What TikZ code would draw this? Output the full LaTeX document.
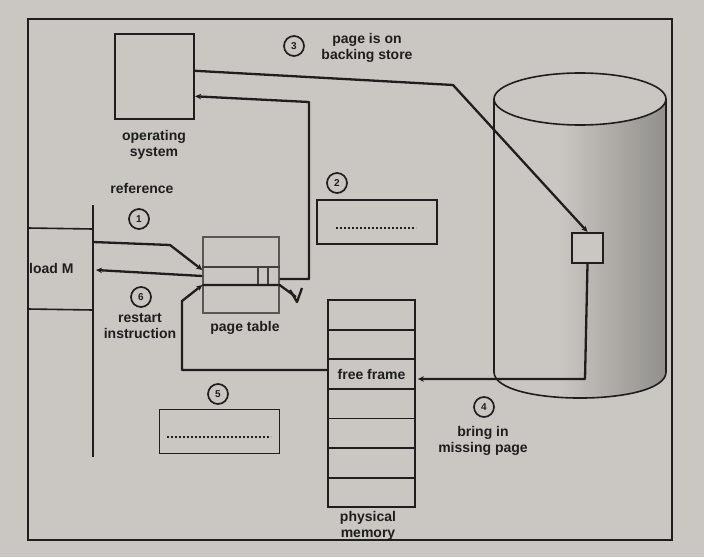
\documentclass[tikz,border=0pt]{standalone}
\usepackage{fontspec}
\setmainfont{Liberation Sans}
\usetikzlibrary{arrows.meta,calc}
\definecolor{bg}{HTML}{CAC7C2}
\definecolor{ink}{HTML}{1E1E1E}
\begin{document}
\begin{tikzpicture}[x=1pt,y=-1pt,
  ln/.style={draw=ink,line width=2.3pt,line join=round},
  thinln/.style={draw=ink,line width=1.6pt},
  box/.style={draw=ink,line width=2.2pt,inner sep=0pt},
  fillbox/.style={draw=ink,line width=1.8pt,inner sep=0pt,minimum width=120pt,minimum height=44pt},
  num/.style={circle,draw=ink,line width=1.7pt,minimum size=20pt,inner sep=0pt,text=ink,font=\fontsize{10}{10}\selectfont\bfseries},
  lbl/.style={font=\fontsize{14}{16}\selectfont\bfseries,text=ink,align=center,inner sep=0pt},
  tip/.style={-{Stealth[length=6pt,width=5.5pt]}},
  memrow/.style={draw=ink,line width=1.8pt,inner sep=0pt,minimum width=87pt,minimum height=29.6pt},
  dots/.style={draw=ink,line width=2pt,dash pattern=on 2pt off 2pt}
]
\fill[bg] (0,0) rectangle (704,557);
\useasboundingbox (0,0) rectangle (704,557);

% backing store (cylinder)
\begin{scope}
  \clip (494,99) -- (494,372) .. controls (494,406.7) and (666,406.7) .. (666,372) -- (666,99)
        .. controls (666,133.7) and (494,133.7) .. (494,99);
  \shade[left color=bg, right color=bg!72!black] (560,90) rectangle (666,410);
\end{scope}
\draw[thinln] (580,99) ellipse [x radius=86, y radius=26];
\draw[thinln] (494,99) -- (494,372) .. controls (494,406.7) and (666,406.7) .. (666,372) -- (666,99);

% outer frame
\draw[draw=ink,line width=2.4pt] (28,19) rectangle (672,540);

% operating system
\node[box, minimum width=79pt, minimum height=85pt] (os) at (154.5,76.5) {};
\node[lbl] (oslbl) at (154,145) {operating\\system};

% step 3
\node[num] (n3) at (294,46) {3};
\node[lbl] (l3) at (367,48) {page is on\\backing store};
\node[box, minimum width=31pt, minimum height=30pt, fill=bg] (sq) at (587.5,248) {};
\coordinate (b3) at (453,85);
\draw[ln,tip] (os.8) -- (b3) -- (sq.north);

% step 2
\node[num] (n2) at (337,183) {2};
\node[fillbox] (b2) at (377,222) {};
\draw[dots] (336,228) -- (416,228);

% page table
\node[draw=ink!75,line width=1.3pt,inner sep=0pt,minimum width=76pt,minimum height=76pt] (pt) at (241,275) {};
\draw[draw=ink!85,line width=1.4pt] (pt.west |- 0,267) -- (pt.east |- 0,267);
\draw[draw=ink!85,line width=1.4pt] (258,267) -- (258,285) (268,267) -- (268,285);
\node[lbl] (ptl) at (245,328) {page table};
\coordinate (c2a) at (309,279);
\coordinate (c2b) at (309,102);
\draw[ln,tip] (pt.east |- 0,279) -- (c2a) -- (c2b) -- (os.-26);

% program side
\draw[thinln] (93,205) -- (93,457);
\draw[thinln] (28,228) -- (93,229);
\draw[thinln] (28,309) -- (93,310);
\node[lbl, anchor=west] (lm) at (29,268) {load M};
\node[lbl] (lref) at (142,188) {reference};
\node[num] (n1) at (139,219) {1};
\node[num] (n6) at (141,297) {6};
\node[lbl] (l6) at (140,326) {restart\\instruction};

% step 1
\coordinate (r0) at (93,242);
\coordinate (r1) at (170,245);
\draw[ln,tip] (r0) -- (r1) -- (pt.west |- 0,270);

% step 6
\coordinate (lmend) at (96,270);
\draw[ln,tip] (pt.west |- 0,276) -- (lmend);

% physical memory
\foreach \i in {1,...,7}
  \node[memrow] (pm\i) at (371.5,{300+29.6*(\i-0.5)}) {};
\node[lbl] (ff) at (pm3) {free frame};
\node[lbl] (pml) at (368,526) {physical\\memory};

% step 4
\node[num] (n4) at (484,407) {4};
\node[lbl] (l4) at (483,441) {bring in\\missing page};
\coordinate (c4) at (585,379);
\draw[ln,tip] (sq.south) -- (c4) -- ($(pm3.east)+(2,5)$);

% step 5
\node[num] (n5) at (218,394) {5};
\node[fillbox] (b5) at (219.5,431.5) {};
\draw[dots] (167,437) -- (271,437);
\coordinate (c5a) at (182,370);
\coordinate (c5b) at (182,301);
\draw[ln,tip] ($(pm3.west)+(0,-4)$) -- (c5a) -- (c5b) -- (pt.west |- 0,285);

% valid bit line
\coordinate (vv) at (296,297);
\draw[ln] (pt.west |- 0,285) -- (pt.east |- 0,285) -- (vv);
\draw[ln] (290,290) -- (297,302) -- (302,288);
\end{tikzpicture}
\end{document}
